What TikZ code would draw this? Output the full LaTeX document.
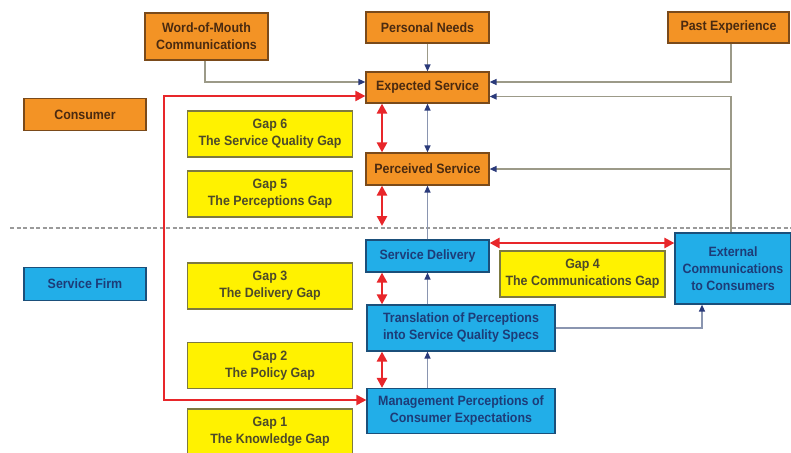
\documentclass[tikz,border=0pt]{standalone}
\usepackage{fontspec}
\usetikzlibrary{arrows.meta}
\newfontfamily\lab{Liberation Sans}[FakeStretch=0.92]
\definecolor{orfill}{HTML}{F39325}
\definecolor{ordraw}{HTML}{7A4A1A}
\definecolor{ortext}{HTML}{4A2A10}
\definecolor{blfill}{HTML}{22AEE8}
\definecolor{bldraw}{HTML}{1B4F7A}
\definecolor{bltext}{HTML}{1D3C78}
\definecolor{yefill}{HTML}{FFF200}
\definecolor{yedraw}{HTML}{7D7A40}
\definecolor{yetext}{HTML}{4D4A2A}
\definecolor{gline}{HTML}{9C9A88}
\definecolor{bline}{HTML}{8A95B0}
\definecolor{navy}{HTML}{2A3A7A}
\definecolor{redarr}{HTML}{E8262A}
\definecolor{dotc}{HTML}{9A9A9A}
\begin{document}
\begin{tikzpicture}[x=1pt,y=-1pt,
  anybox/.style={draw, line width=1.2pt, inner sep=0pt, align=center,
    font=\lab\bfseries\fontsize{13.5}{17}\selectfont},
  orbox/.style={anybox, fill=orfill, draw=ordraw, text=ortext},
  blbox/.style={anybox, fill=blfill, draw=bldraw, text=bltext},
  yebox/.style={anybox, fill=yefill, draw=yedraw, text=yetext,
    minimum width=165pt, minimum height=46pt},
  conn/.style={draw=gline, line width=1.3pt, -{Triangle[length=7pt,width=6pt,color=navy]}},
  connb/.style={draw=bline, line width=1.3pt, -{Triangle[length=7pt,width=6pt,color=navy]}},
  conn2/.style={draw=bline, line width=1.3pt, {Triangle[length=7pt,width=6pt,color=navy]}-{Triangle[length=7pt,width=6pt,color=navy]}},
  gapline/.style={draw=redarr, line width=2.5pt, {Triangle[length=10pt,width=10pt]}-{Triangle[length=10pt,width=10pt]}},
]
\useasboundingbox (0,0) rectangle (791,452);
\fill[white] (0,0) rectangle (791,452);
% dotted separator
\draw[dotc, line width=1.5pt, dash pattern=on 4pt off 2.5pt] (10,228) -- (791,228);

% nodes
\node[orbox, minimum width=123pt, minimum height=47pt] (wom) at (206.5,36.5) {Word-of-Mouth\\Communications};
\node[orbox, minimum width=123pt, minimum height=31pt] (pn) at (427.5,27.5) {Personal Needs};
\node[orbox, minimum width=121pt, minimum height=31pt] (pe) at (728.5,27.5) {Past Experience};
\node[orbox, minimum width=123pt, minimum height=31pt] (es) at (427.5,87.5) {Expected Service};
\node[orbox, minimum width=122pt, minimum height=32pt] (cons) at (85,114.5) {Consumer};
\node[orbox, minimum width=123pt, minimum height=32pt] (ps) at (427.5,169) {Perceived Service};
\node[yebox] (g6) at (270,134) {Gap 6\\The Service Quality Gap};
\node[yebox] (g5) at (270,194) {Gap 5\\The Perceptions Gap};

\node[blbox, minimum width=123pt, minimum height=32pt] (sd) at (427.5,256) {Service Delivery};
\node[yebox] (g4) at (582.5,274) {Gap 4\\The Communications Gap};
\node[blbox, minimum width=116pt, minimum height=71pt] (ext) at (733,268.5) {External\\Communications\\to Consumers};
\node[blbox, minimum width=122pt, minimum height=33pt] (sf) at (85,284) {Service Firm};
\node[yebox] (g3) at (270,286) {Gap 3\\The Delivery Gap};
\node[blbox, minimum width=188pt, minimum height=46pt] (tr) at (461,328) {Translation of Perceptions\\into Service Quality Specs};
\node[yebox] (g2) at (270,365.5) {Gap 2\\The Policy Gap};
\node[blbox, minimum width=188pt, minimum height=45pt] (mp) at (461,411) {Management Perceptions of\\Consumer Expectations};
\node[yebox] (g1) at (270,432) {Gap 1\\The Knowledge Gap};

% gray/blue connectors
\draw[conn] ([xshift=-1.5pt]wom.south) |- ([yshift=5.5pt]es.west);
\draw[conn] (pn.south) -- (es.north);
\draw[conn] ([xshift=2.5pt]pe.south) |- ([yshift=5.5pt]es.east);
\coordinate (extup) at ([xshift=-2pt]ext.north);
\draw[conn] (extup) |- ([yshift=-9pt]es.east);
\draw[conn] (extup |- ps.east) -- (ps.east);
\draw[conn2] (es.south) -- (ps.north);
\draw[connb] (sd.north -| ps.south) -- (ps.south);
\draw[connb] (tr.north -| sd.south) -- (sd.south);
\draw[connb] (mp.north -| sd.south) -- (tr.south -| sd.south);
\draw[connb] (tr.east) -| ([xshift=-31pt]ext.south);

% red gap arrows
\coordinate (dl) at (382,226);
\draw[gapline] (es.south -| dl) -- (ps.north -| dl);
\draw[gapline] (ps.south -| dl) -- (dl);
\draw[gapline] (sd.south -| dl) -- (tr.north -| dl);
\draw[gapline] (tr.south -| dl) -- (mp.north -| dl);
\draw[gapline] ([yshift=13pt]sd.east) -- ([yshift=13pt]sd.east -| ext.west);
\draw[gapline, line width=2pt, rounded corners=0pt] ([yshift=11pt]mp.west) -- ++(-202,0) |- ([yshift=-8.5pt]es.west);
\end{tikzpicture}
\end{document}
